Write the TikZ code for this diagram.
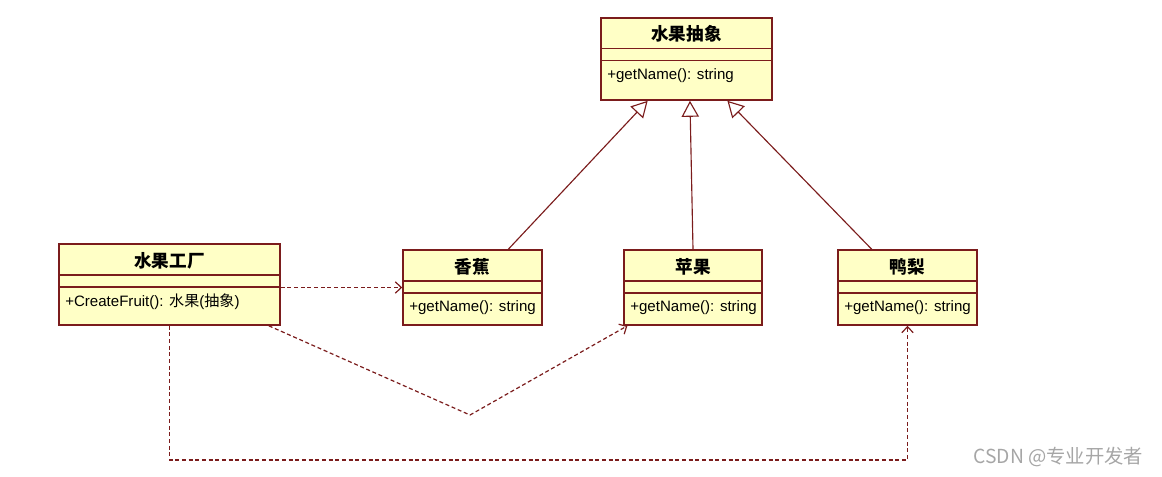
\documentclass[tikz,border=0pt]{standalone}
\usepackage{fontspec}
\setmainfont{Liberation Sans}
\newfontfamily\cjk{Noto Sans CJK SC}
\usetikzlibrary{arrows.meta, fit, calc}

\definecolor{umlfill}{HTML}{FFFFC6}
\definecolor{umlline}{HTML}{7B1C1C}

%% class box: name, left, top, right, bottom, first separator, title, method
\newcommand{\umlclass}[8]{%
  \node[clsbox, fit={(#2,#3) (#4,#5)}] (#1) {};
  \draw[clsline] (#2,#6) -- (#4,#6) (#2,#6+12) -- (#4,#6+12);
  \node[clstitle] (#1-title) at ({(#2+#4)/2},{(#3+#6)/2+1}) {#7};
  \node[clsmeth] (#1-meth) at (#2+6,#6+27) {#8};
}

\begin{document}
\begin{tikzpicture}[
  x=0.75pt, y=-0.75pt,
  every node/.style={font=\fontsize{11.3}{13}\selectfont},
  clsbox/.style={draw=umlline, fill=umlfill, line width=1.2pt, inner sep=0pt},
  clsline/.style={umlline, line width=1pt},
  clstitle/.style={font=\cjk\bfseries\fontsize{13.2}{15}\selectfont},
  clsmeth/.style={anchor=west, inner sep=0pt},
  inherit/.style={umlline, line width=0.85pt,
    -{Triangle[open, length=12pt, width=13pt, fill=white]}},
  depend/.style={umlline, line width=0.9pt, dash pattern=on 3pt off 2pt,
    -{Straight Barb[length=4.5pt, width=8.5pt]}}
]
\useasboundingbox (0,0) rectangle (1162,476);

%% ── classes ──────────────────────────────────────────────────────────────────
\umlclass{abs}{601}{18}{772}{100}{48.5}{水果抽象}{+getName(): string}
\umlclass{factory}{59}{244}{280}{325}{275}{水果工厂}{+CreateFruit(): {\cjk 水果}({\cjk 抽象})}
\umlclass{banana}{403}{250}{542}{325}{281}{香蕉}{+getName(): string}
\umlclass{apple}{624}{250}{762}{325}{281}{苹果}{+getName(): string}
\umlclass{pear}{838}{250}{977}{325}{281}{鸭梨}{+getName(): string}

%% ── generalisation ───────────────────────────────────────────────────────────
\draw[inherit] ($(banana.north west)!0.755!(banana.north east)$)
  -- ($(abs.south west)!0.275!(abs.south east)$);
\draw[inherit] (apple.north)
  -- ($(abs.south west)!0.52!(abs.south east)$);
\draw[inherit] ($(pear.north west)!0.245!(pear.north east)$)
  -- ($(abs.south west)!0.737!(abs.south east)$);

%% ── dependencies ─────────────────────────────────────────────────────────────
\coordinate (vbend) at (470,415);
\coordinate (loopy) at (0,460);
\draw[depend] (factory.east |- banana.west) -- (banana.west);
\draw[depend] ($(factory.south west)!0.946!(factory.south east)$)
  -- (vbend) -- ($(apple.south west)!0.03!(apple.south east)$);
\draw[depend] (factory.south) -- (factory.south |- loopy) -| (pear.south);

%% ── watermark ────────────────────────────────────────────────────────────────
\node[text=gray!70, font=\cjk\fontsize{14.5}{16}\selectfont, anchor=east]
  (mark) at (1148,457) {CSDN @专业开发者};

\end{tikzpicture}
\end{document}
